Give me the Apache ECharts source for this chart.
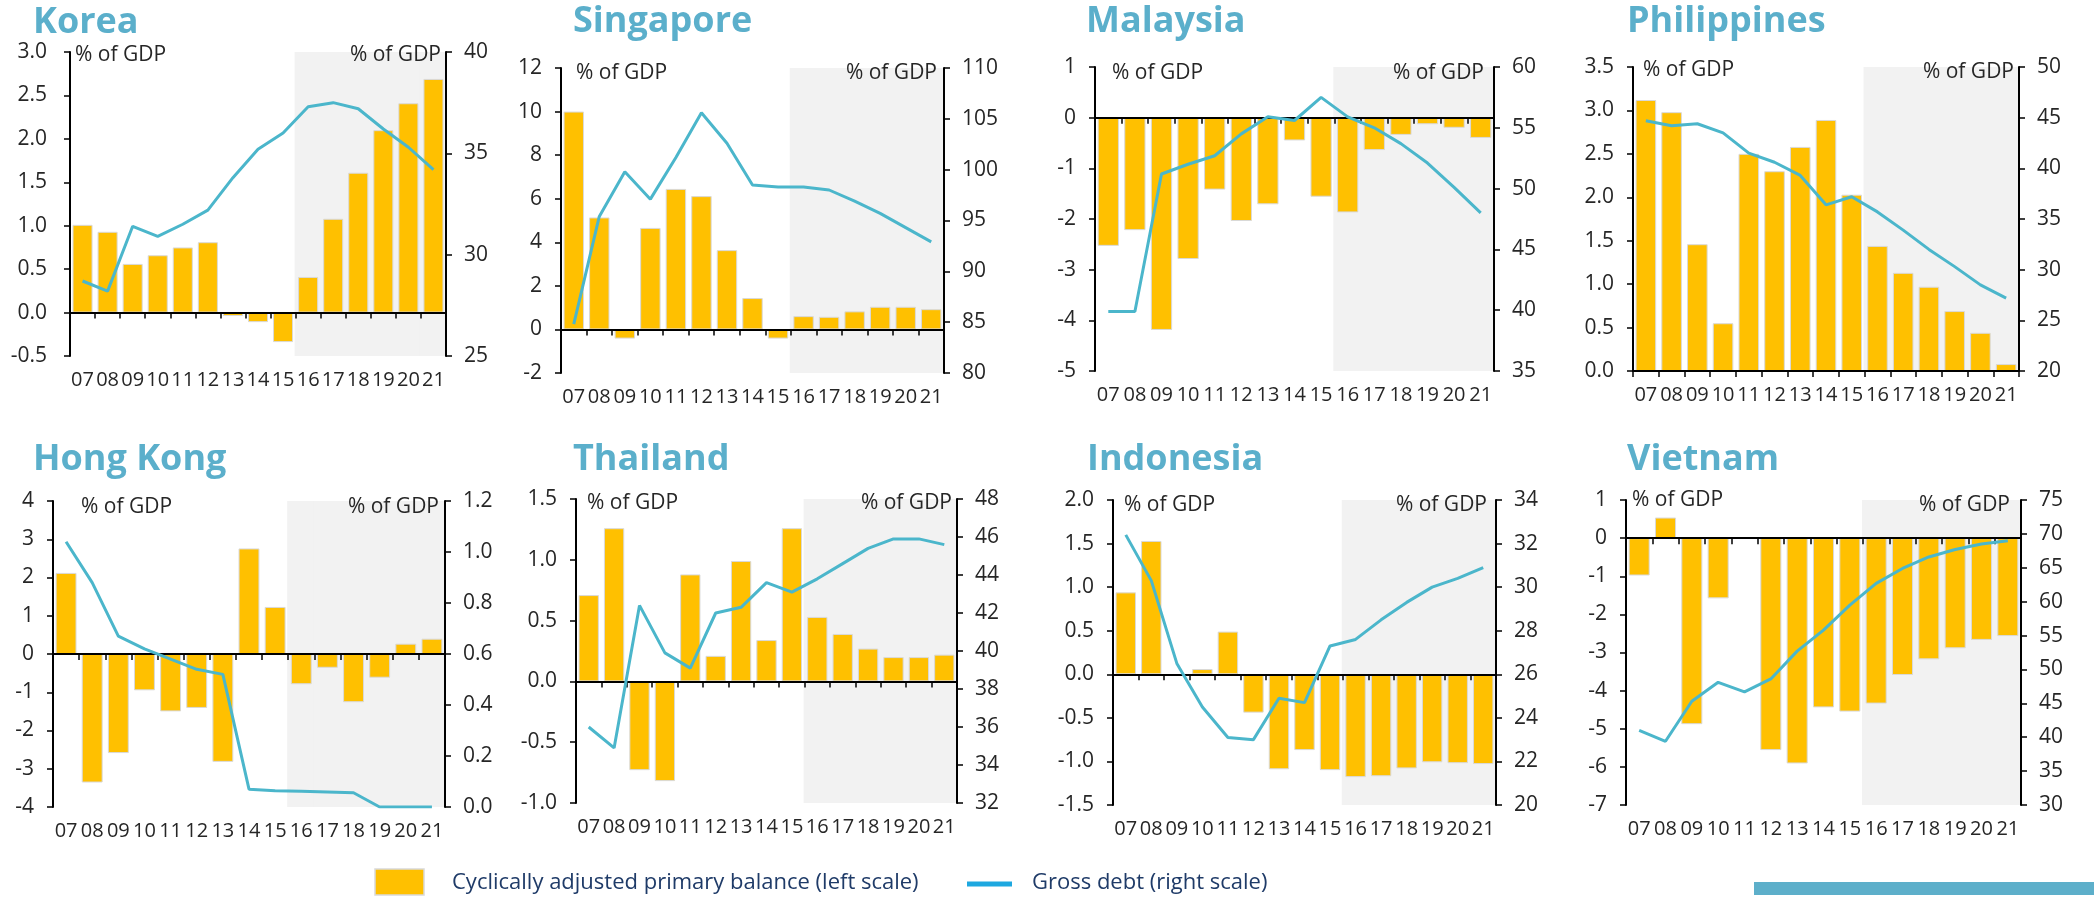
<!DOCTYPE html>
<html>
<head>
<meta charset="utf-8">
<script src="https://cdn.jsdelivr.net/npm/echarts@6/dist/echarts.min.js"></script>
<style>
  html, body { margin: 0; padding: 0; background: #ffffff; }
  #chart { width: 2094px; height: 898px; }
</style>
</head>
<body>
<div id="chart"></div>
<script>
// Years on the category axis and the projection years that get a grey band
const years = ['07','08','09','10','11','12','13','14','15','16','17','18','19','20','21'];
const projectionYears = ['16','17','18','19','20','21'];

// Cyclically adjusted primary balance (% of GDP, left scale) and gross debt (% of GDP, right scale)
const koreaBalance = [1.01, 0.93, 0.56, 0.66, 0.75, 0.81, -0.04, -0.11, -0.34, 0.41, 1.08, 1.61, 2.10, 2.41, 2.69];
const koreaDebt = [28.7, 28.2, 31.4, 30.9, 31.5, 32.2, 33.8, 35.2, 36.0, 37.3, 37.5, 37.2, 36.2, 35.3, 34.2];

const singaporeBalance = [10.0, 5.14, -0.42, 4.66, 6.45, 6.12, 3.64, 1.44, -0.42, 0.61, 0.58, 0.83, 1.04, 1.04, 0.93];
const singaporeDebt = [84.8, 95.4, 99.8, 97.1, 101.2, 105.6, 102.6, 98.5, 98.3, 98.3, 98.0, 96.9, 95.7, 94.3, 92.9];

const malaysiaBalance = [-2.53, -2.22, -4.19, -2.79, -1.42, -2.04, -1.71, -0.45, -1.56, -1.87, -0.64, -0.34, -0.13, -0.20, -0.40];
const malaysiaDebt = [39.9, 39.9, 51.2, 52.0, 52.7, 54.5, 55.9, 55.6, 57.5, 55.9, 55.0, 53.7, 52.1, 50.1, 48.0];

const philippinesBalance = [3.12, 2.98, 1.46, 0.55, 2.50, 2.30, 2.58, 2.89, 2.03, 1.44, 1.13, 0.97, 0.69, 0.44, 0.08];
const philippinesDebt = [44.7, 44.2, 44.4, 43.5, 41.5, 40.6, 39.3, 36.4, 37.2, 35.7, 33.9, 32.0, 30.3, 28.5, 27.2];

const hongKongBalance = [2.12, -3.36, -2.59, -0.95, -1.50, -1.41, -2.82, 2.76, 1.23, -0.79, -0.36, -1.26, -0.62, 0.27, 0.40];
const hongKongDebt = [1.04, 0.88, 0.67, 0.62, 0.58, 0.54, 0.52, 0.07, 0.064, 0.062, 0.059, 0.056, 0.0, 0.0, 0.0];

const thailandBalance = [0.71, 1.26, -0.73, -0.82, 0.88, 0.21, 0.99, 0.34, 1.26, 0.53, 0.39, 0.27, 0.20, 0.20, 0.22];
const thailandDebt = [36.0, 34.9, 42.4, 39.9, 39.1, 42.0, 42.3, 43.6, 43.1, 43.8, 44.6, 45.4, 45.9, 45.9, 45.6];

const indonesiaBalance = [0.94, 1.53, -0.02, 0.06, 0.49, -0.44, -1.09, -0.87, -1.10, -1.18, -1.17, -1.08, -1.01, -1.02, -1.03];
const indonesiaDebt = [32.4, 30.3, 26.5, 24.5, 23.1, 23.0, 24.9, 24.7, 27.3, 27.6, 28.5, 29.3, 30.0, 30.4, 30.9];

const vietnamBalance = [-0.98, 0.54, -4.88, -1.58, 0, -5.56, -5.91, -4.44, -4.55, -4.34, -3.59, -3.18, -2.89, -2.67, -2.57];
const vietnamDebt = [41.0, 39.4, 45.3, 48.1, 46.7, 48.6, 52.7, 55.8, 59.5, 62.7, 64.9, 66.6, 67.7, 68.5, 69.0];

// Tick labels of the left and right value axes
const koreaLeftTicks = ['-0.5','0.0','0.5','1.0','1.5','2.0','2.5','3.0'];
const koreaRightTicks = ['25','30','35','40'];
const singaporeLeftTicks = ['-2','0','2','4','6','8','10','12'];
const singaporeRightTicks = ['80','85','90','95','100','105','110'];
const malaysiaLeftTicks = ['-5','-4','-3','-2','-1','0','1'];
const malaysiaRightTicks = ['35','40','45','50','55','60'];
const philippinesLeftTicks = ['0.0','0.5','1.0','1.5','2.0','2.5','3.0','3.5'];
const philippinesRightTicks = ['20','25','30','35','40','45','50'];
const hongKongLeftTicks = ['-4','-3','-2','-1','0','1','2','3','4'];
const hongKongRightTicks = ['0.0','0.2','0.4','0.6','0.8','1.0','1.2'];
const thailandLeftTicks = ['-1.0','-0.5','0.0','0.5','1.0','1.5'];
const thailandRightTicks = ['32','34','36','38','40','42','44','46','48'];
const indonesiaLeftTicks = ['-1.5','-1.0','-0.5','0.0','0.5','1.0','1.5','2.0'];
const indonesiaRightTicks = ['20','22','24','26','28','30','32','34'];
const vietnamLeftTicks = ['-7','-6','-5','-4','-3','-2','-1','0','1'];
const vietnamRightTicks = ['30','35','40','45','50','55','60','65','70','75'];

const unitLabel = '% of GDP';
const balanceName = 'Cyclically adjusted primary balance (left scale)';
const debtName = 'Gross debt (right scale)';

const FONT = '"Open Sans", "Liberation Sans", sans-serif';
const TITLE_COLOR = '#5BAFCB';
const BAR_COLOR = '#FFC000';
const LINE_COLOR = '#4BB6CB';
const SHADE_COLOR = '#F2F2F2';
const TEXT_COLOR = '#262626';
const TICK_FONT = 21;

// Panel placement: plot box [left, top, right, bottom], title anchor, unit label anchors
const panels = [
  { title: 'Korea', balance: koreaBalance, debt: koreaDebt, left: koreaLeftTicks, right: koreaRightTicks,
    box: [70, 52, 446, 356], titleAt: [33, 23], unitL: [75, 55], unitR: [441, 55], leftGap: 23 },
  { title: 'Singapore', balance: singaporeBalance, debt: singaporeDebt, left: singaporeLeftTicks, right: singaporeRightTicks,
    box: [561, 68, 944, 373], titleAt: [573, 22], unitL: [576, 73], unitR: [937, 73] },
  { title: 'Malaysia', balance: malaysiaBalance, debt: malaysiaDebt, left: malaysiaLeftTicks, right: malaysiaRightTicks,
    box: [1095, 67, 1494, 371], titleAt: [1086, 22], unitL: [1112, 73], unitR: [1484, 73] },
  { title: 'Philippines', balance: philippinesBalance, debt: philippinesDebt, left: philippinesLeftTicks, right: philippinesRightTicks,
    box: [1633, 67, 2019, 371], titleAt: [1627, 22], unitL: [1643, 70], unitR: [2014, 72] },
  { title: 'Hong Kong', balance: hongKongBalance, debt: hongKongDebt, left: hongKongLeftTicks, right: hongKongRightTicks,
    box: [53, 501, 445, 807], titleAt: [33, 460], unitL: [81, 507], unitR: [439, 507] },
  { title: 'Thailand', balance: thailandBalance, debt: thailandDebt, left: thailandLeftTicks, right: thailandRightTicks,
    box: [576, 499, 957, 803], titleAt: [573, 460], unitL: [587, 503], unitR: [952, 503] },
  { title: 'Indonesia', balance: indonesiaBalance, debt: indonesiaDebt, left: indonesiaLeftTicks, right: indonesiaRightTicks,
    box: [1113, 500, 1496, 805], titleAt: [1087, 460], unitL: [1124, 505], unitR: [1487, 505] },
  { title: 'Vietnam', balance: vietnamBalance, debt: vietnamDebt, left: vietnamLeftTicks, right: vietnamRightTicks,
    box: [1626, 500, 2021, 805], titleAt: [1627, 460], unitL: [1632, 500], unitR: [2010, 505] }
];

// Value axis built from its tick labels (min, max, step and decimals)
function valueAxis(ticks, position, gridIndex, gap) {
  const vals = ticks.map(Number);
  const decimals = (ticks[0].split('.')[1] || '').length;
  return {
    type: 'value', gridIndex: gridIndex, position: position, z: 5,
    min: vals[0], max: vals[vals.length - 1], interval: +(vals[1] - vals[0]).toFixed(6),
    axisLine: { show: true, onZero: false, lineStyle: { color: '#000', width: 2 } },
    axisTick: { show: true, length: 6, lineStyle: { color: '#000', width: 1.5 } },
    axisLabel: { margin: gap, fontSize: TICK_FONT, color: TEXT_COLOR, fontFamily: FONT,
                 formatter: v => Number(v).toFixed(decimals) },
    splitLine: { show: false }
  };
}

const grid = [], xAxis = [], yAxis = [], series = [], graphic = [];

panels.forEach((p, i) => {
  const [x0, y0, x1, y1] = p.box;
  grid.push({ left: x0, top: y0, width: x1 - x0, height: y1 - y0 });

  const yLeft = yAxis.length;
  yAxis.push(valueAxis(p.left, 'left', i, p.leftGap || 19));
  yAxis.push(valueAxis(p.right, 'right', i, 18));
  yAxis.push({ type: 'value', gridIndex: i, min: 0, max: 1, show: false });

  const xMain = xAxis.length;
  // zero line with tick marks between years
  xAxis.push({
    type: 'category', gridIndex: i, data: years, position: 'bottom', z: 5,
    axisLine: { show: true, onZero: true, onZeroAxisIndex: yLeft, lineStyle: { color: '#000', width: 2 } },
    axisTick: { show: true, length: 6, lineStyle: { color: '#000', width: 1.5 } },
    axisLabel: { show: false }, splitLine: { show: false }
  });
  // year labels along the bottom of the plot
  xAxis.push({
    type: 'category', gridIndex: i, data: years, position: 'bottom',
    axisLine: { show: false, onZero: false }, axisTick: { show: false },
    axisLabel: { interval: 0, margin: 14, fontSize: 20, color: TEXT_COLOR, fontFamily: FONT },
    splitLine: { show: false }
  });

  // grey band over the projection years; bands overlap slightly so no seams show
  series.push({
    type: 'bar', name: 'projection', silent: true, z: 0,
    xAxisIndex: xMain + 1, yAxisIndex: yLeft + 2, barWidth: '108%',
    data: years.map(y => projectionYears.includes(y) ? 1 : '-'),
    itemStyle: { color: SHADE_COLOR }
  });
  series.push({
    type: 'bar', name: balanceName, z: 2,
    xAxisIndex: xMain, yAxisIndex: yLeft, barWidth: '80%',
    data: p.balance,
    itemStyle: { color: BAR_COLOR, borderColor: '#D9D9D9', borderWidth: 1 }
  });
  series.push({
    type: 'line', name: debtName, z: 6,
    xAxisIndex: xMain, yAxisIndex: yLeft + 1,
    data: p.debt, showSymbol: false, symbol: 'none',
    lineStyle: { color: LINE_COLOR, width: 3 }
  });

  graphic.push({
    type: 'text', x: p.titleAt[0], y: p.titleAt[1],
    style: { text: p.title, fontFamily: FONT, fontSize: 36, fontWeight: 'bold', fill: TITLE_COLOR,
             align: 'left', verticalAlign: 'middle' }
  });
  graphic.push({
    type: 'text', x: p.unitL[0], y: p.unitL[1], z: 10,
    style: { text: unitLabel, fontFamily: FONT, fontSize: 21, fill: TEXT_COLOR, align: 'left', verticalAlign: 'middle' }
  });
  graphic.push({
    type: 'text', x: p.unitR[0], y: p.unitR[1], z: 10,
    style: { text: unitLabel, fontFamily: FONT, fontSize: 21, fill: TEXT_COLOR, align: 'right', verticalAlign: 'middle' }
  });
});

// Key below the panels and the rule at the bottom right
const LEGEND_TEXT = '#1F3B68';
graphic.push(
  { type: 'rect', shape: { x: 375, y: 869, width: 49, height: 26 },
    style: { fill: BAR_COLOR, stroke: '#D9D9D9', lineWidth: 1.5 } },
  { type: 'text', x: 452, y: 883,
    style: { text: balanceName, fontFamily: FONT, fontSize: 22, fill: LEGEND_TEXT, align: 'left', verticalAlign: 'middle' } },
  { type: 'rect', shape: { x: 967, y: 881.5, width: 45, height: 5 }, style: { fill: '#1EA8E0' } },
  { type: 'text', x: 1032, y: 883,
    style: { text: debtName, fontFamily: FONT, fontSize: 22, fill: LEGEND_TEXT, align: 'left', verticalAlign: 'middle' } },
  { type: 'rect', shape: { x: 1754, y: 882, width: 340, height: 13 }, style: { fill: '#5DAFCA' } }
);

const chart = echarts.init(document.getElementById('chart'), null, { renderer: 'canvas' });
chart.setOption({
  animation: false,
  backgroundColor: '#ffffff',
  grid: grid,
  xAxis: xAxis,
  yAxis: yAxis,
  series: series,
  graphic: graphic
});
</script>
</body>
</html>
